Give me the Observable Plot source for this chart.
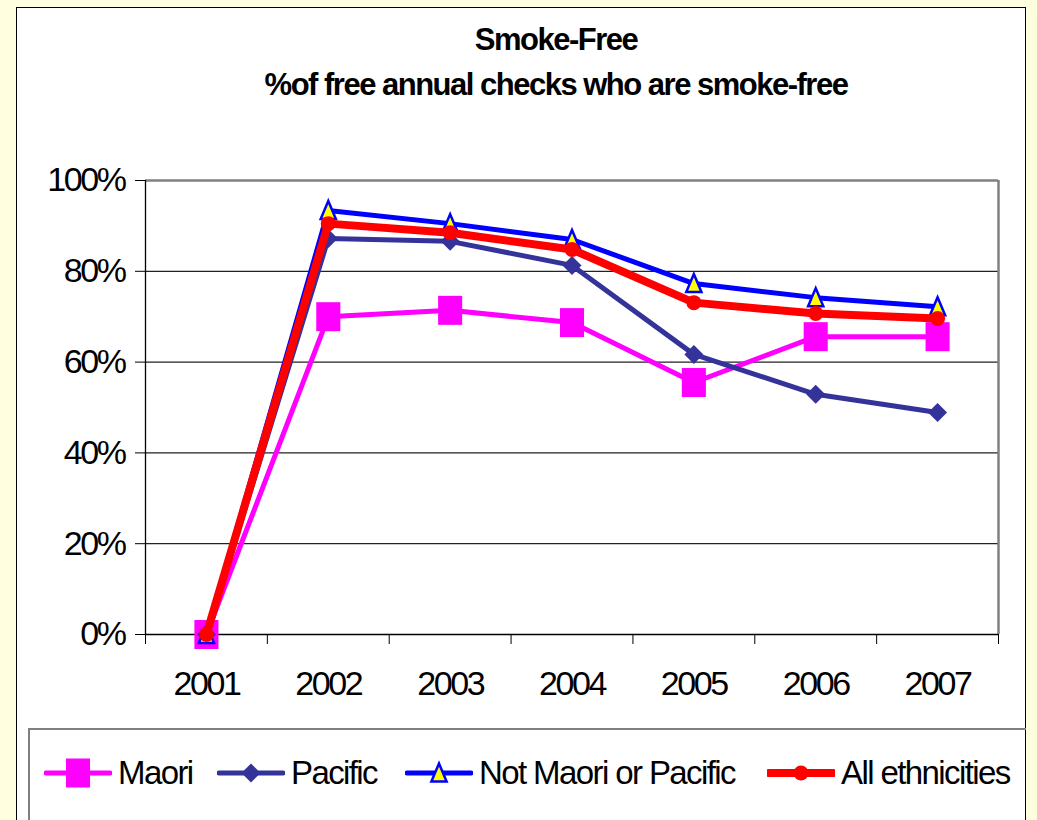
<!DOCTYPE html>
<html><head><meta charset="utf-8">
<script src="https://cdn.jsdelivr.net/npm/d3@7"></script>
<script src="https://cdn.jsdelivr.net/npm/@observablehq/plot@0.6"></script>
<style>
body{margin:0;background:#FFFFE0;width:1037px;height:820px;overflow:hidden;position:relative;font-family:"Liberation Sans",Arial,sans-serif;}
#box{position:absolute;left:16px;top:7px;width:1008px;height:830px;background:#fff;border:1.5px solid #000;}
.t{position:absolute;left:256px;width:600px;text-align:center;font-weight:bold;font-family:"Liberation Sans",Arial,sans-serif;font-size:31px;letter-spacing:-1.5px;color:#000;line-height:1}
#chart{position:absolute;left:0;top:150px;}
#legend{position:absolute;left:28px;top:728px;width:996px;height:100px;border-top:2px solid #808080;border-left:2px solid #808080;}
.item{position:absolute;top:26px;height:34px;display:flex;align-items:center;font-size:33px;letter-spacing:-1.6px;white-space:nowrap;color:#000}
.item svg{margin-right:6px}
</style></head>
<body>
<div id="box"></div>
<div class="t" style="top:24px">Smoke-Free</div>
<div class="t" style="top:69px">%of free annual checks who are smoke-free</div>
<div id="chart"></div>
<div id="legend"></div>
<script>
const years = [2001, 2002, 2003, 2004, 2005, 2006, 2007];
const seriesNames = ["Maori", "Pacific", "Not Maori or Pacific", "All ethnicities"];
const maori   = [0, 70.0, 71.4, 68.7, 55.5, 65.6, 65.6];
const pacific = [0, 87.2, 86.6, 81.3, 61.7, 52.9, 48.9];
const notMP   = [0, 93.4, 90.5, 87.0, 77.3, 74.2, 72.2];
const allEth  = [0, 90.5, 88.5, 84.8, 73.1, 70.7, 69.6];
const yTicks = [0, 20, 40, 60, 80, 100];
const colors = ["#FF00FF", "#333399", "#0000FF", "#FF0000"];
const lineWidths = [5, 5, 5, 8];

const valuesBySeries = [maori, pacific, notMP, allEth];
const rows = [];
seriesNames.forEach((s, i) => years.forEach((y, j) => rows.push({series: s, year: y, value: valuesBySeries[i][j]})));

// custom symbols
const rectSym = {draw(ctx, size){const r=Math.sqrt(size/Math.PI); ctx.rect(-r*0.83,-r,r*1.66,2*r);}};
const diamSym = {draw(ctx, size){const r=Math.sqrt(size/Math.PI); ctx.moveTo(0,-r);ctx.lineTo(r,0);ctx.lineTo(0,r);ctx.lineTo(-r,0);ctx.closePath();}};
const triSym = {draw(ctx, size){const r=Math.sqrt(size/Math.PI); ctx.moveTo(0,-r);ctx.lineTo(r*0.8,r*0.9);ctx.lineTo(-r*0.8,r*0.9);ctx.closePath();}};
const markerDefs = [
  {symbol: rectSym, r: 14.5, fill: "#FF00FF", stroke: "none", sw: 0},
  {symbol: diamSym, r: 9.5, fill: "#333399", stroke: "none", sw: 0},
  {symbol: triSym, r: 9.5, fill: "#FFFF00", stroke: "#0000FF", sw: 2.5},
  {symbol: "circle", r: 7.5, fill: "#FF0000", stroke: "none", sw: 0}
];

const bounds = [years[0] - 0.5, ...years.map(y => y + 0.5)];

const marks = [
  Plot.gridY(yTicks.filter(t => t > 0 && t < 100), {stroke: "#222", strokeOpacity: 1, strokeWidth: 1.3}),
  Plot.ruleY([yTicks[yTicks.length-1]], {stroke: "#808080", strokeWidth: 2.5}),
  Plot.ruleX([bounds[bounds.length-1]], {stroke: "#808080", strokeWidth: 2.5}),
  Plot.ruleX([bounds[0]], {stroke: "#000", strokeWidth: 1.3}),
  Plot.ruleY([0], {stroke: "#000", strokeWidth: 1.3}),
  Plot.axisY({ticks: yTicks, tickFormat: d => d + "%", tickSize: 10, tickPadding: 11, fontSize: 34, stroke: "#000", label: null}),
  Plot.axisX({ticks: bounds, tickFormat: () => "", tickSize: 10, stroke: "#000", label: null}),
  Plot.axisX({ticks: years, tickFormat: d => String(d), tickSize: 0, tickPadding: 36, fontSize: 34, label: null})
];
seriesNames.forEach((s, i) => {
  const data = rows.filter(r => r.series === s);
  marks.push(Plot.line(data, {x: "year", y: "value", stroke: colors[i], strokeWidth: lineWidths[i], strokeLinejoin: "round"}));
  const m = markerDefs[i];
  marks.push(Plot.dot(data, {x: "year", y: "value", symbol: () => m.symbol, r: m.r, fill: m.fill, stroke: m.stroke, strokeWidth: m.sw}));
});

const chart = Plot.plot({
  width: 1037, height: 570,
  marginLeft: 145, marginRight: 39, marginTop: 30, marginBottom: 86,
  x: {type: "linear", domain: [bounds[0], bounds[bounds.length-1]]},
  y: {domain: [0, 100]},
  symbol: {type: "identity"},
  style: {fontFamily: '"Liberation Sans",Arial,sans-serif', background: "transparent", color: "#000", letterSpacing: "-2.4px"},
  marks
});
document.getElementById("chart").appendChild(chart);

// legend
const legendX = [14, 187, 375, 737];
const leg = document.getElementById("legend");
seriesNames.forEach((s, i) => {
  const d = document.createElement("div");
  d.className = "item";
  d.style.left = legendX[i] + "px";
  const m = markerDefs[i];
  const sv = d3.create("svg").attr("width", 68).attr("height", 34);
  sv.append("line").attr("x1", 2).attr("x2", 66).attr("y1", 17).attr("y2", 17)
    .attr("stroke", colors[i]).attr("stroke-width", lineWidths[i]).attr("stroke-linecap", "round");
  const sym = typeof m.symbol === "string" ? d3.symbolCircle : m.symbol;
  sv.append("path").attr("transform", "translate(34,17)")
    .attr("d", d3.symbol(sym, Math.PI * m.r * m.r)())
    .attr("fill", m.fill).attr("stroke", m.stroke).attr("stroke-width", m.sw);
  d.appendChild(sv.node());
  const sp = document.createElement("span");
  sp.textContent = s;
  d.appendChild(sp);
  leg.appendChild(d);
});
</script>
</body></html>
